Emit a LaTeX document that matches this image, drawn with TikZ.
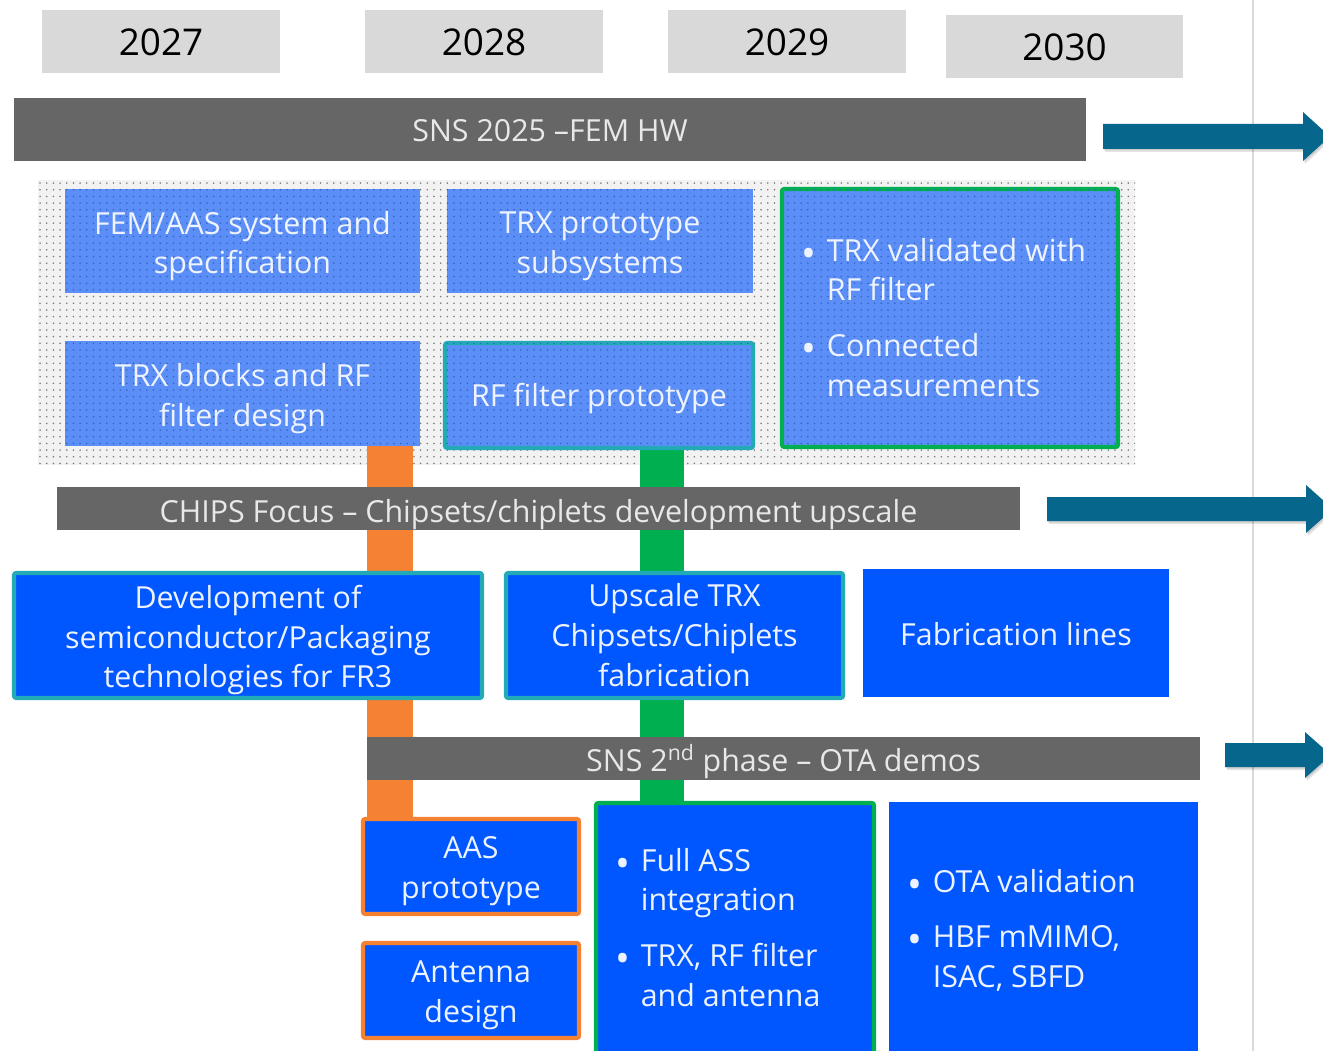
\documentclass[tikz,border=0pt]{standalone}
\usepackage{fontspec}
\setmainfont{Open Sans}
\usetikzlibrary{patterns.meta,calc}
\pgfdeclarelayer{bottom}
\pgfdeclarelayer{background}
\pgfsetlayers{bottom,background,main}
\definecolor{yearbg}{HTML}{D9D9D9}
\definecolor{bargray}{HTML}{666666}
\definecolor{bartext}{HTML}{E8E8E8}
\definecolor{lblue}{HTML}{5B8FF7}
\definecolor{ldots}{HTML}{3562C4}
\definecolor{lbtext}{HTML}{EEF3FF}
\definecolor{dblue}{HTML}{0057FF}
\definecolor{dbtext}{HTML}{EDF2FF}
\definecolor{tealb}{HTML}{22AAB6}
\definecolor{greenb}{HTML}{00B050}
\definecolor{orangeb}{HTML}{F58232}
\definecolor{arrowblue}{HTML}{07668C}
\definecolor{panelbg}{HTML}{F2F2F2}
\definecolor{paneldots}{HTML}{7A7A7A}
% box shape node + separate text node
\newcommand\mkbox[8]{%
  \node[#1, inner sep=0pt, minimum width={(#6-#4)*0.02cm}, minimum height={(#7-#5)*0.02cm}] (#3) at ({(#4+#6)/2},{(#5+#7)/2}) {};
  \node[#2, inner sep=0pt] (#3-text) at (#3.center) {#8};}
\newcommand\bul{\makebox[14.5pt][l]{\raisebox{-3.5pt}{\scalebox{1.3}{\textbullet}}}}
% block arrow: x0, ytop, ybottom, xhead, headtop, headbottom, tip
\newcommand\blockarrow[7]{%
  \fill[black, opacity=0.10] ($(#1,#2)+(2,3)$) -- ($(#4,#2)+(2,3)$) -- ($(#4,#5)+(2,3)$) -- ($(#7,{(#5+#6)/2})+(2,3)$) -- ($(#4,#6)+(2,3)$) -- ($(#4,#3)+(2,3)$) -- ($(#1,#3)+(2,3)$) -- cycle;
  \fill[black, opacity=0.10] ($(#1,#2)+(1,1.5)$) -- ($(#4,#2)+(1,1.5)$) -- ($(#4,#5)+(1,1.5)$) -- ($(#7,{(#5+#6)/2})+(1,1.5)$) -- ($(#4,#6)+(1,1.5)$) -- ($(#4,#3)+(1,1.5)$) -- ($(#1,#3)+(1,1.5)$) -- cycle;
  \fill[arrowblue] (#1,#2) -- (#4,#2) -- (#4,#5) -- (#7,{(#5+#6)/2}) -- (#4,#6) -- (#4,#3) -- (#1,#3) -- cycle;}
\tikzset{
  bodyfont/.style={font=\fontsize{17.3}{22.7}\selectfont},
  yearbox/.style={fill=yearbg},
  yeartext/.style={text=black, font=\fontsize{21}{25}\selectfont, yshift=-0.5pt},
  graybar/.style={fill=bargray},
  bartxt/.style={text=bartext, bodyfont, yshift=-1.6pt},
  panel/.style={fill=panelbg, postaction={pattern={Dots[distance=3.8pt,radius=0.5pt]}, pattern color=paneldots}},
  lbox/.style={fill=lblue, postaction={pattern={Dots[distance=3.8pt,radius=0.5pt]}, pattern color=ldots}},
  ltext/.style={text=lbtext, align=center, bodyfont, yshift=-2.9pt},
  ltext1/.style={text=lbtext, align=center, bodyfont, yshift=-1.6pt},
  dbox/.style={fill=dblue},
  dtext/.style={text=dbtext, align=center, bodyfont, yshift=-2.6pt},
  dtext1/.style={text=dbtext, align=center, bodyfont, yshift=-0.8pt},
  tealframe/.style={draw=tealb, line width=2.3pt, rounded corners=1.2pt},
  greenframe/.style={draw=greenb, line width=2.3pt, rounded corners=1.2pt},
  orangeframe/.style={draw=orangeb, line width=2.3pt, rounded corners=1.2pt},
  obar/.style={draw=orangeb, line width=26pt},
  gbar/.style={draw=greenb, line width=25pt},
  bullets/.style={anchor=west, inner sep=0pt, align=left, bodyfont},
  none/.style={},
}
\begin{document}
\begin{tikzpicture}[x=0.02cm, y=-0.02cm]
\useasboundingbox (0,0) rectangle (1323,1051);
\begin{pgfonlayer}{bottom}
\fill[white] (0,0) rectangle (1323,1051);
\end{pgfonlayer}
\clip (0,0) rectangle (1323,1051);

% divider line
\draw[line width=1pt, color=black!15] (1253,0) -- (1253,1051);

% years
\mkbox{yearbox}{yeartext}{y27}{42}{10}{280}{73}{2027}
\mkbox{yearbox}{yeartext}{y28}{365}{10}{603}{73}{2028}
\mkbox{yearbox}{yeartext}{y29}{668}{10}{906}{73}{2029}
\mkbox{yearbox}{yeartext}{y30}{946}{15}{1183}{78}{2030}

% bars
\mkbox{graybar}{bartxt,yshift=1pt}{sns}{14}{98}{1086}{161}{SNS 2025 –FEM HW}
\mkbox{graybar}{bartxt,yshift=-1.6pt}{chips}{57}{487}{1020}{530}{CHIPS Focus – Chipsets/chiplets development upscale}
\mkbox{graybar}{bartxt}{sns2}{367}{737}{1200}{780}{SNS 2\textsuperscript{nd} phase – OTA demos}

% arrows
\blockarrow{1103}{124}{149}{1303}{112}{161}{1330}
\blockarrow{1047}{497}{521}{1306}{485}{533}{1333}
\blockarrow{1225}{743}{767}{1305}{732}{778}{1331}

% dotted panel
\begin{pgfonlayer}{bottom}
\node[panel, inner sep=0pt, minimum width={1097*0.02cm}, minimum height={285*0.02cm}] (panelbg) at ({(38+1135)/2},{(180+465)/2}) {};
\end{pgfonlayer}

% light boxes
\mkbox{lbox}{ltext}{femaas}{65}{189}{420}{293}{FEM/AAS system and\\specification}
\mkbox{lbox}{ltext}{trxproto}{447}{189}{753}{293}{TRX prototype\\subsystems}
\mkbox{lbox}{ltext}{trxblocks}{65}{341}{420}{446}{TRX blocks and RF\\filter design}
\mkbox{lbox,tealframe}{ltext1}{rfproto}{445}{343}{753}{448}{RF filter prototype}
\mkbox{lbox,greenframe}{none}{trxval}{782}{189}{1118}{447}{}
\node[bullets, text=lbtext, yshift=-1.6pt] (trxvaltext) at (801,318) {%
  \begin{tabular}{@{}l@{}l@{}}
  \bul & TRX validated with\\
       & RF filter\\[9pt]
  \bul & Connected\\
       & measurements
  \end{tabular}};

% row 3
\mkbox{dbox,tealframe}{dtext}{devsemi}{14}{573}{482}{698}{Development of\\semiconductor/Packaging\\technologies for FR3}
\mkbox{dbox,tealframe}{dtext,yshift=2.8pt}{upscale}{506}{573}{843}{698}{Upscale TRX\\Chipsets/Chiplets\\fabrication}
\mkbox{dbox}{dtext1}{fablines}{863}{569}{1169}{697}{Fabrication lines}

% row 4
\mkbox{dbox,orangeframe}{dtext}{aas}{363}{819}{579}{914}{AAS\\prototype}
\mkbox{dbox,orangeframe}{dtext}{antenna}{363}{943}{579}{1038}{Antenna\\design}
\mkbox{dbox,greenframe}{none}{fullass}{596}{803}{874}{1070}{}
\node[bullets, text=dbtext, yshift=-1.6pt] (fullasstext) at (615,928) {%
  \begin{tabular}{@{}l@{}l@{}}
  \bul & Full ASS\\
       & integration\\[9pt]
  \bul & TRX, RF filter\\
       & and antenna
  \end{tabular}};
\mkbox{dbox}{none}{ota}{889}{802}{1198}{1070}{}
\node[bullets, text=dbtext, yshift=-1.6pt] (otatext) at (907,929) {%
  \begin{tabular}{@{}l@{}l@{}}
  \bul & OTA validation\\[9pt]
  \bul & HBF mMIMO,\\
       & ISAC, SBFD
  \end{tabular}};

% vertical connectors
\coordinate (ox) at (390,0);
\coordinate (gx) at (662,0);
\begin{pgfonlayer}{background}
\draw[obar] (trxblocks.south -| ox) -- (aas.north -| ox);
\draw[gbar] (rfproto.south -| gx) -- (fullass.north -| gx);
\end{pgfonlayer}
\end{tikzpicture}
\end{document}
